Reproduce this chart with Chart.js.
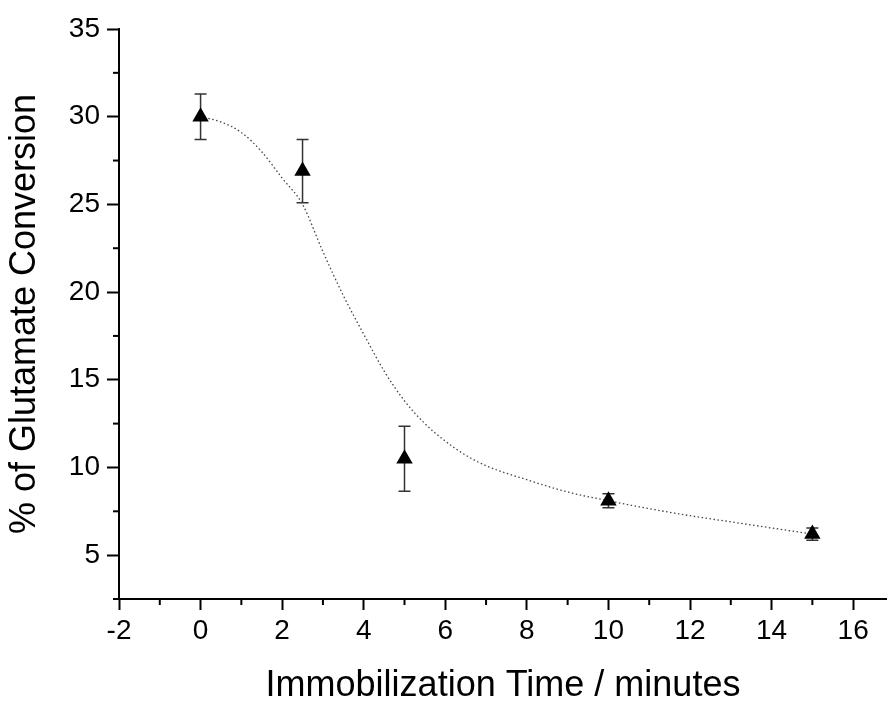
<!DOCTYPE html>
<html>
<head>
<meta charset="utf-8">
<script src="https://cdn.jsdelivr.net/npm/chart.js@4.4.0/dist/chart.umd.min.js"></script>
<style>
  html, body { margin: 0; padding: 0; background: #fff; }
  #wrap { width: 887px; height: 704px; }
</style>
</head>
<body>
<div id="wrap"><canvas id="c" width="887" height="704"></canvas></div>
<script>
// ---- data ----
const timeMinutes = [0, 2.5, 5, 10, 15];
const conversion = [30.0, 26.9, 10.5, 8.1, 6.2];
const conversionError = [1.3, 1.8, 1.85, 0.4, 0.35];

const fitX = [0, 0.5, 1, 1.5, 2, 2.5, 3, 3.5, 4, 4.5, 5, 5.5, 6, 6.5, 7, 8, 9, 10, 11, 12, 13, 14, 15];
const fitY = [30.0, 29.7, 29.1, 28.0, 26.5, 25.0, 22.3, 19.8, 17.6, 15.5, 13.8, 12.5, 11.5, 10.7, 10.1, 9.3, 8.6, 8.1, 7.65, 7.25, 6.9, 6.55, 6.2];

const xTickValues = [-2, 0, 2, 4, 6, 8, 10, 12, 14, 16];
const yTickValues = [5, 10, 15, 20, 25, 30, 35];

const xTitle = 'Immobilization Time / minutes';
const yTitle = '% of Glutamate Conversion';

const FONT = "'Liberation Sans', Arial, sans-serif";

const errorBarPlugin = {
  id: 'errorBars',
  beforeDatasetsDraw(chart) {
    const ctx = chart.ctx;
    const xs = chart.scales.x, ys = chart.scales.y;
    ctx.save();
    ctx.strokeStyle = '#333';
    ctx.lineWidth = 1.5;
    const cap = 6;
    timeMinutes.forEach((t, i) => {
      const px = xs.getPixelForValue(t);
      const top = ys.getPixelForValue(conversion[i] + conversionError[i]);
      const bot = ys.getPixelForValue(conversion[i] - conversionError[i]);
      ctx.beginPath();
      ctx.moveTo(px, top); ctx.lineTo(px, bot);
      ctx.moveTo(px - cap, top); ctx.lineTo(px + cap, top);
      ctx.moveTo(px - cap, bot); ctx.lineTo(px + cap, bot);
      ctx.stroke();
    });
    ctx.restore();
  }
};

const minorTickPlugin = {
  id: 'minorTicks',
  afterDraw(chart) {
    const ctx = chart.ctx;
    const xs = chart.scales.x, ys = chart.scales.y;
    const area = chart.chartArea;
    ctx.save();
    ctx.strokeStyle = '#000';
    ctx.lineWidth = 2;
    const len = 6;
    const xm = [];
    for (let i = 0; i < xTickValues.length - 1; i++) xm.push((xTickValues[i] + xTickValues[i + 1]) / 2);
    xm.forEach(v => {
      const p = xs.getPixelForValue(v);
      ctx.beginPath(); ctx.moveTo(p, area.bottom); ctx.lineTo(p, area.bottom + len); ctx.stroke();
    });
    const ym = [yTickValues[0] - (yTickValues[1] - yTickValues[0]) / 2];
    for (let i = 0; i < yTickValues.length - 1; i++) ym.push((yTickValues[i] + yTickValues[i + 1]) / 2);
    ym.forEach(v => {
      const p = ys.getPixelForValue(v);
      ctx.beginPath(); ctx.moveTo(area.left, p); ctx.lineTo(area.left - len, p); ctx.stroke();
    });
    ctx.restore();
  }
};

new Chart(document.getElementById('c'), {
  type: 'scatter',
  data: {
    datasets: [
      {
        label: 'fit',
        type: 'line',
        data: fitX.map((x, i) => ({ x, y: fitY[i] })),
        borderColor: '#444',
        borderWidth: 1.3,
        borderDash: [1.5, 2.5],
        pointRadius: 0,
        cubicInterpolationMode: 'monotone',
        fill: false,
        order: 2
      },
      {
        label: 'data',
        data: timeMinutes.map((x, i) => ({ x, y: conversion[i] })),
        pointStyle: 'triangle',
        pointRadius: 9.5,
        backgroundColor: '#000',
        borderColor: '#000',
        borderWidth: 0,
        order: 1
      }
    ]
  },
  options: {
    responsive: false,
    animation: false,
    devicePixelRatio: 1,
    layout: { autoPadding: false, padding: { top: 29, right: 0, left: 0, bottom: 0 } },
    plugins: { legend: { display: false }, tooltip: { enabled: false } },
    scales: {
      x: {
        type: 'linear',
        min: -2,
        max: 16.83,
        afterBuildTicks(scale) { scale.ticks = xTickValues.map(v => ({ value: v })); },
        afterFit(scale) { scale.height = 105; },
        border: { display: true, color: '#000', width: 2 },
        grid: { display: true, drawOnChartArea: false, drawTicks: true, tickLength: 11, tickColor: '#000', tickWidth: 2 },
        ticks: { color: '#000', font: { family: FONT, size: 28 }, padding: 4, maxRotation: 0 },
        title: { display: true, text: xTitle, color: '#000', font: { family: FONT, size: 36 }, padding: { top: 16, bottom: -4 } }
      },
      y: {
        type: 'linear',
        min: 2.5,
        max: 35,
        afterBuildTicks(scale) { scale.ticks = yTickValues.map(v => ({ value: v })); },
        afterFit(scale) { scale.width = 119; },
        border: { display: true, color: '#000', width: 2 },
        grid: { display: true, drawOnChartArea: false, drawTicks: true, tickLength: 12, tickColor: '#000', tickWidth: 2 },
        ticks: { color: '#000', font: { family: FONT, size: 28 }, padding: 7 },
        title: { display: true, text: yTitle, color: '#000', font: { family: FONT, size: 36 }, padding: { top: 3.5, bottom: 4 } }
      }
    }
  },
  plugins: [errorBarPlugin, minorTickPlugin]
});
</script>
</body>
</html>
